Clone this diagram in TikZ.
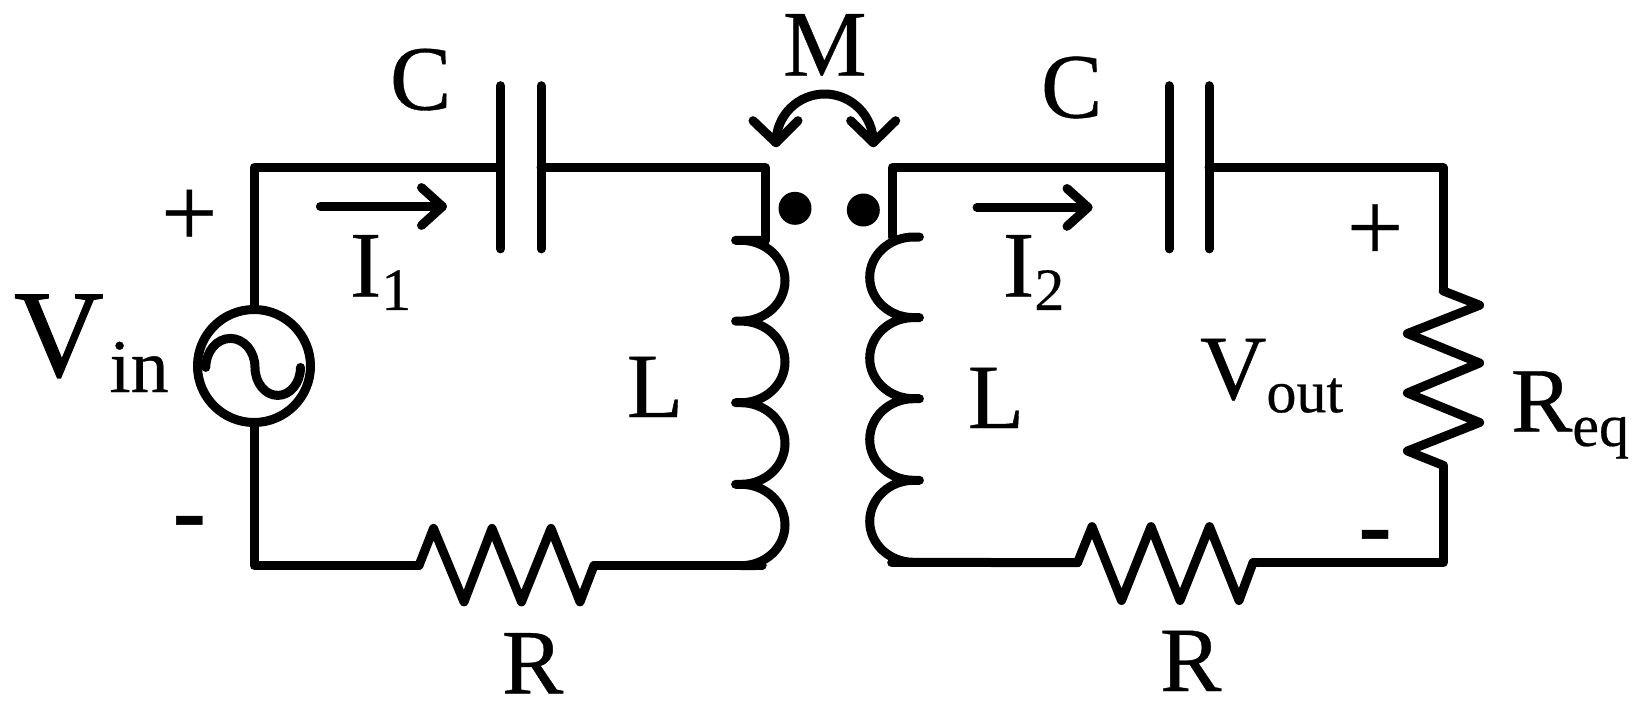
\documentclass[tikz,border=0pt]{standalone}
\usepackage{fontspec}
\usepackage{graphicx}
\setmainfont{Liberation Serif}[FakeBold=0.4]
\newcommand{\fsz}[1]{\fontsize{#1}{#1}\selectfont}
\newcommand{\subtxt}[3]{\raisebox{#1}{\fsz{#2}#3}}
\tikzset{
  wire/.style={draw=black,line width=4.5pt,line cap=round,line join=round},
  txt/.style={inner sep=0pt,outer sep=0pt,text=black,anchor=base west},
  sym/.style={inner sep=0pt,outer sep=0pt,text=black,anchor=center},
  dotmark/.style={circle,fill=black,inner sep=0pt,minimum size=16.5pt},
  srccircle/.style={circle,draw=black,line width=4.5pt,inner sep=0pt,minimum size=56.5pt}
}
\begin{document}
\begin{tikzpicture}[x=0.5pt,y=-0.5pt]
\useasboundingbox (0,0) rectangle (1642,707);
\fill[white] (0,0) rectangle (1642,707);
% junctions
\coordinate (tl) at (254,167.7);
\coordinate (bl) at (254,565.4);
\coordinate (capAtop) at (500.5,85.7);
\coordinate (capAbot) at (500.5,248.9);
\coordinate (capBtop) at (541,85.7);
\coordinate (capBbot) at (541,248.9);
\coordinate (capAw) at (500.5,167.7);
\coordinate (capBw) at (541,167.7);
\coordinate (tml) at (765.4,167.7);
\coordinate (cl0) at (765.4,240.3);
\coordinate (coilLtop) at (735.6,240.3);
\coordinate (coilLjoin) at (762,565.4);
\coordinate (resLa) at (419,565.4);
\coordinate (resLb) at (594,565.4);
\coordinate (tmr) at (892.3,167.7);
\coordinate (cr0) at (892.3,237);
\coordinate (coilRtop) at (919.4,237);
\coordinate (coilRjoin) at (891.7,562.7);
\coordinate (resRa) at (1077.5,562.7);
\coordinate (resRb) at (1253,562.7);
\coordinate (capCtop) at (1169,85.7);
\coordinate (capCbot) at (1169,248.9);
\coordinate (capDtop) at (1209,85.7);
\coordinate (capDbot) at (1209,248.9);
\coordinate (capCw) at (1169,167.7);
\coordinate (capDw) at (1209,167.7);
\coordinate (tr) at (1443,167.7);
\coordinate (br) at (1443,562.7);
\coordinate (reqa) at (1443,290.8);
\coordinate (reqb) at (1443,465.3);
% source
\node[srccircle] (src) at (254,366) {};
\draw[wire] (src.north) -- (tl) -- (capAw);
\draw[wire] (src.south) -- (bl) -- (resLa);
\draw[wire] (205.8,367.4) arc[start angle=180,end angle=360,x radius=24.6,y radius=29] arc[start angle=180,end angle=0,x radius=22.75,y radius=28];
% left capacitor
\draw[wire] (capAtop) -- (capAbot);
\draw[wire] (capBtop) -- (capBbot);
\draw[wire] (capBw) -- (tml) -- (cl0);
% left coil
\draw[wire] (cl0) -- (coilLtop) -- ++(5.4,0)
 arc[start angle=-90,end angle=90,x radius=44,y radius=40.4] -- ++(-5.4,0) ++(5.4,0)
 arc[start angle=-90,end angle=90,x radius=44,y radius=40.8] -- ++(-5.4,0) ++(5.4,0)
 arc[start angle=-90,end angle=90,x radius=44,y radius=40.8] -- ++(-5.4,0) ++(5.4,0)
 arc[start angle=-90,end angle=90,x radius=44,y radius=40.7] -- (coilLjoin);
\draw[wire] (resLb) -- (coilLjoin);
% left resistor
\draw[wire] (resLa) -- (433.5,528.4) -- (464,601.9) -- (492,528.4) -- (521.5,601.9) -- (551,528.4) -- (580,601.9) -- (resLb);
% right coil
\draw[wire] (capCw) -- (tmr) -- (cr0);
\draw[wire] (coilRtop) -- ++(-5.7,0)
 arc[start angle=-90,end angle=-270,x radius=44,y radius=40.3] -- ++(5.7,0) ++(-5.7,0)
 arc[start angle=-90,end angle=-270,x radius=44,y radius=40.55] -- ++(5.7,0) ++(-5.7,0)
 arc[start angle=-90,end angle=-270,x radius=44,y radius=40.8] -- ++(5.7,0) ++(-5.7,0)
 arc[start angle=-90,end angle=-270,x radius=44,y radius=41] -- (resRa);
\draw[wire] (coilRjoin) -- (resRa);
% right resistor bottom
\draw[wire] (resRa) -- (1092,526.6) -- (1121.5,600.5) -- (1151,526.6) -- (1180,600.5) -- (1209.5,526.6) -- (1239,600.5) -- (resRb);
% right capacitor
\draw[wire] (capCtop) -- (capCbot);
\draw[wire] (capDtop) -- (capDbot);
\draw[wire] (capDw) -- (tr) -- (reqa);
% load
\draw[wire] (reqa) -- (1479.6,305.2) -- (1407.4,333.6) -- (1479.6,363) -- (1407.4,393) -- (1479.6,422.5) -- (1407.4,451) -- (reqb);
\draw[wire] (reqb) -- (br) -- (resRb);
% current arrows
\coordinate (ia) at (320.4,206.5); \coordinate (ib) at (442.4,206.5);
\coordinate (ic) at (977,207.4); \coordinate (id) at (1088,207.4);
\draw[wire] (ia) -- (ib);
\draw[wire] (421.5,187.6) -- (ib) -- (421.5,225.4);
\draw[wire] (ic) -- (id);
\draw[wire] (1067,188.5) -- (id) -- (1067,226.3);
% dots
\node[dotmark] (dotL) at (795,208.3) {};
\node[dotmark] (dotR) at (863.3,210) {};
% M arrow
\coordinate (mL) at (776,142.7); \coordinate (mR) at (873.3,142.7);
\draw[wire] (mL) arc[start angle=180,end angle=360,x radius=48.65,y radius=48.7];
\draw[wire] (753,120.7) -- (mL) -- (798,120.7);
\draw[wire] (850.7,120.7) -- (mR) -- (895.7,120.7);
% labels
\node[txt] (tC1) at (390,109.6) {\fsz{46}C};
\node[txt] (tC2) at (1041,117.5) {\fsz{46}C};
\node[txt] (tM) at (783,75.7) {\fsz{47}M};
\node[txt] (tVin) at (14,376) {\fsz{62}\addfontfeature{FakeBold=1}V\hspace{3pt}\subtxt{-8pt}{38}{\addfontfeature{FakeBold=0.4}in}};
\node[txt] (tI1) at (350,296.7) {\fsz{47}I\subtxt{-6.6pt}{30}{1}};
\node[txt] (tI2) at (1003,296.7) {\fsz{47}I\subtxt{-6.6pt}{30}{2}};
\node[txt] (tL1) at (627,417) {\fsz{46}L};
\node[txt] (tL2) at (968,428) {\fsz{46}L};
\node[txt] (tR1) at (502,693.4) {\fsz{46}R};
\node[txt] (tR2) at (1160,691) {\fsz{46}R};
\node[txt] (tVout) at (1200,399) {\fsz{46}V\subtxt{-6.6pt}{30}{out}};
\node[txt] (tReq) at (1511,431.5) {\fsz{46}R\subtxt{-7.2pt}{30}{eq}};
\node[sym] (pL) at (189.4,218) {\fsz{50}+};
\node[sym] (pR) at (1375,232.5) {\fsz{50}+};
\node[sym] (mnL) at (189.3,530) {\fsz{50}\bfseries -};
\node[sym] (mnR) at (1375,544) {\fsz{50}\bfseries -};
\end{tikzpicture}
\end{document}
